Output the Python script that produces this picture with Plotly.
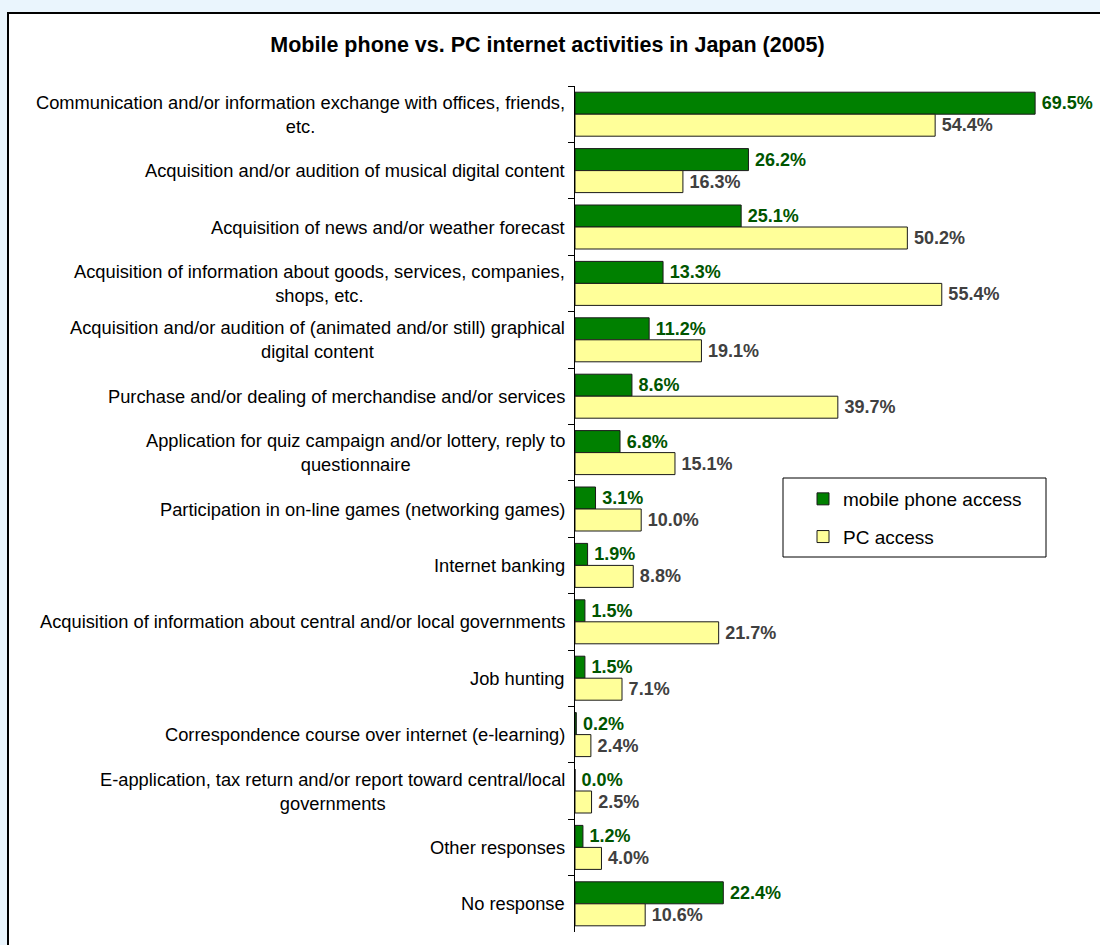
import plotly.graph_objects as go

# Survey categories (top to bottom) and the wrapped form used for the axis labels
categories = [
    "Communication and/or information exchange with offices, friends, etc.",
    "Acquisition and/or audition of musical digital content",
    "Acquisition of news and/or weather forecast",
    "Acquisition of information about goods, services, companies, shops, etc.",
    "Acquisition and/or audition of (animated and/or still) graphical digital content",
    "Purchase and/or dealing of merchandise and/or services",
    "Application for quiz campaign and/or lottery, reply to questionnaire",
    "Participation in on-line games (networking games)",
    "Internet banking",
    "Acquisition of information about central and/or local governments",
    "Job hunting",
    "Correspondence course over internet (e-learning)",
    "E-application, tax return and/or report toward central/local governments",
    "Other responses",
    "No response",
]
category_labels = [
    "Communication and/or information exchange with offices, friends,<br>etc.",
    "Acquisition and/or audition of musical digital content",
    "Acquisition of news and/or weather forecast",
    "Acquisition of information about goods, services, companies,<br>shops, etc.",
    "Acquisition and/or audition of (animated and/or still) graphical<br>digital content",
    "Purchase and/or dealing of merchandise and/or services",
    "Application for quiz campaign and/or lottery, reply to<br>questionnaire",
    "Participation in on-line games (networking games)",
    "Internet banking",
    "Acquisition of information about central and/or local governments",
    "Job hunting",
    "Correspondence course over internet (e-learning)",
    "E-application, tax return and/or report toward central/local<br>governments",
    "Other responses",
    "No response",
]

# Share of users (%) by access device
mobile_access = [69.5, 26.2, 25.1, 13.3, 11.2, 8.6, 6.8, 3.1, 1.9, 1.5, 1.5, 0.2, 0.0, 1.2, 22.4]
pc_access = [54.4, 16.3, 50.2, 55.4, 19.1, 39.7, 15.1, 10.0, 8.8, 21.7, 7.1, 2.4, 2.5, 4.0, 10.6]

series_names = ["mobile phone access", "PC access"]

FONT = "Liberation Sans, Arial, sans-serif"
W, H = 1100, 945
ML, MR, MT, MB = 575, 0, 86, 13
PW, PH = W - ML - MR, H - MT - MB


def px_x(x):
    return (x - ML) / PW


def px_y(y):
    return 1 - (y - MT) / PH


fig = go.Figure()

# value labels sit a thin space away from the bar end
label_fmt = "\u2009%{x:.1f}%"

fig.add_trace(go.Bar(
    name=series_names[0],
    y=categories,
    x=mobile_access,
    orientation="h",
    legendgroup="mobile",
    marker=dict(color="#008000", line=dict(color="#1a1a1a", width=1)),
    texttemplate=label_fmt,
    textposition="outside",
    textfont=dict(family=FONT, size=18, color="#005500", weight="bold"),
    cliponaxis=False,
))
fig.add_trace(go.Bar(
    name=series_names[1],
    y=categories,
    x=pc_access,
    orientation="h",
    legendgroup="pc",
    marker=dict(color="#FFFF99", line=dict(color="#1a1a1a", width=1)),
    texttemplate=label_fmt,
    textposition="outside",
    textfont=dict(family=FONT, size=18, color="#404040", weight="bold"),
    cliponaxis=False,
))

# Category labels: right-anchored next to the axis, wrapped lines centred
annotations = []
for i, lab in enumerate(category_labels):
    annotations.append(dict(
        x=0, xref="paper", xanchor="right", xshift=-8,
        y=i, yref="y", yanchor="middle",
        text=lab, align="center", showarrow=False,
        font=dict(family=FONT, size=18.3, color="#000000"),
    ))

shapes = [
    # white chart panel with a dark frame
    dict(type="rect", xref="paper", yref="paper",
         x0=px_x(8), x1=px_x(1115), y0=px_y(960), y1=px_y(13),
         line=dict(color="#000000", width=2), fillcolor="#FFFFFF", layer="below"),
    # legend frame
    dict(type="rect", xref="paper", yref="paper",
         x0=px_x(783), x1=px_x(1046), y0=px_y(557), y1=px_y(478),
         line=dict(color="#000000", width=1), fillcolor="#FFFFFF", layer="below"),
]

fig.update_layout(
    width=W, height=H,
    margin=dict(l=ML, r=MR, t=MT, b=MB, pad=0),
    paper_bgcolor="#EAF5FD",
    plot_bgcolor="rgba(0,0,0,0)",
    barmode="group",
    bargap=0.22,
    bargroupgap=0,
    showlegend=True,
    title=dict(
        text="<b>Mobile phone vs. PC internet activities in Japan (2005)</b>",
        font=dict(family=FONT, size=21.5, color="#000000"),
        x=547.5 / W, xref="container", xanchor="center",
        y=1 - 44 / H, yref="container", yanchor="middle",
    ),
    legend=dict(
        x=px_x(803), y=px_y(480), xanchor="left", yanchor="top",
        bgcolor="rgba(0,0,0,0)", borderwidth=0,
        font=dict(family=FONT, size=19, color="#000000"),
        tracegroupgap=10,
        traceorder="grouped",
    ),
    xaxis=dict(range=[0, 79.3], visible=False, fixedrange=True),
    yaxis=dict(
        type="category",
        categoryorder="array", categoryarray=categories,
        autorange="reversed",
        showticklabels=False,
        showline=True, linecolor="#000000", linewidth=1,
        ticks="outside", ticklen=6, tickcolor="#000000", tickwidth=1,
        tickson="boundaries",
        showgrid=False, zeroline=False,
    ),
    annotations=annotations,
    shapes=shapes,
)

fig.write_html("out.html")
